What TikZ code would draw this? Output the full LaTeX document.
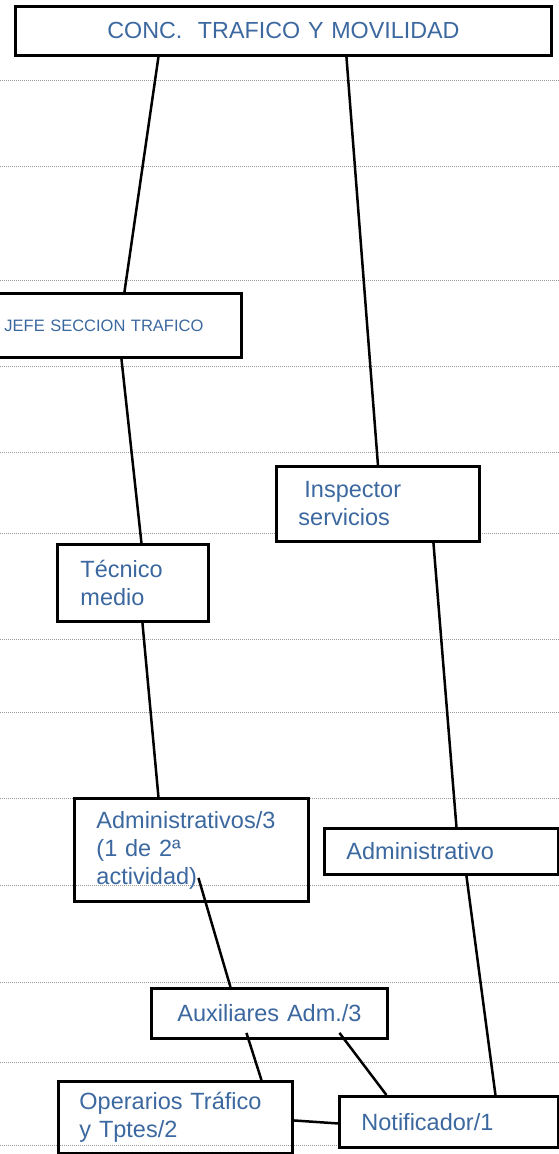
\documentclass[tikz,border=0pt]{standalone}
\usepackage{fontspec}
\setmainfont{Liberation Sans}
\usepackage{tikz}
\definecolor{txtblue}{RGB}{60,104,160}
\newcommand{\bodyfont}{\fontsize{23.5}{28}\selectfont}

\begin{document}
\begin{tikzpicture}[x=1pt, y=-1pt]
		
		\tikzstyle{box}=[draw, line width=2.9pt, fill=white, anchor=north west,
		inner xsep=22pt, inner ysep=0pt, align=left, font=\bodyfont, text=txtblue]
		\tikzstyle{conn}=[line width=2.5pt, black]
		\tikzstyle{rule}=[gray!80, line width=0.7pt, dash pattern=on 1pt off 1pt]
		
		\useasboundingbox (0,0) rectangle (559,1154);
		
		% Ruled lines of the page
		\foreach \yy in {80,166,280,366,452,533,639,712,798,885,982,1062,1145}
		\draw[rule] (0,\yy) -- (559,\yy);
		
		% Boxes
		\node[box, align=center, text width=492pt, minimum height=49pt,
		font=\fontsize{23.3}{28}\selectfont] (conc) at (14,5)
		{CONC.\ \ TRAFICO Y MOVILIDAD};
		\node[box, inner xsep=13pt, text width=224pt, minimum height=64pt,
		font=\fontsize{16.5}{20}\selectfont] (jefe) at (-10,292)
		{JEFE SECCION TRAFICO};
		\node[box, text width=159pt, minimum height=75pt] (insp) at (275,465)
		{\hspace*{6pt}Inspector\\servicios};
		\node[box, inner xsep=23pt, text width=105pt, minimum height=77pt] (tec) at (56,543)
		{Técnico\\medio};
		\node[box, fill=none, text width=190pt, minimum height=103pt] (adm3) at (73,797)
		{Administrativos/3\\(1 de 2ª\\actividad)};
		\node[box, text width=190pt, minimum height=46pt] (adm) at (323,827)
		{Administrativo};
		\node[box, align=center, text width=192pt, minimum height=50pt] (aux) at (150,987)
		{Auxiliares Adm./3};
		\node[box, fill=none, inner xsep=21pt, text width=192pt, minimum height=72pt] (oper) at (57,1080)
		{Operarios Tráfico\\y Tptes/2};
		\node[box, text width=175pt, minimum height=51pt] (notif) at (338,1095)
		{Notificador/1};
		
		% Connections
		\draw[conn] ([xshift=-125pt]conc.south) -- ([xshift=8pt]jefe.north);
		\draw[conn] ([xshift=63pt]conc.south) -- (insp.north);
		\draw[conn] ([xshift=5pt]jefe.south) -- ([xshift=8.5pt]tec.north);
		\draw[conn] ([xshift=9.5pt]tec.south) -- ([xshift=-33pt]adm3.north);
		\draw[conn] ([xshift=55.5pt]insp.south) -- ([xshift=15pt]adm.north);
		\draw[conn] ([xshift=7pt,yshift=25pt]adm3.south) -- ([xshift=-39pt]aux.north);
		\draw[conn] ([xshift=-23pt,yshift=7pt]aux.south) -- ([xshift=86pt]oper.north);
		\draw[conn] ([xshift=70pt,yshift=7pt]aux.south) -- ([xshift=-62.5pt]notif.north);
		\draw[conn] ([xshift=25pt]adm.south) -- ([xshift=46.5pt]notif.north);
		\draw[conn] ([yshift=-3pt]oper.east) -- ([yshift=-1.5pt]notif.west);
		
\end{tikzpicture}
\end{document}
